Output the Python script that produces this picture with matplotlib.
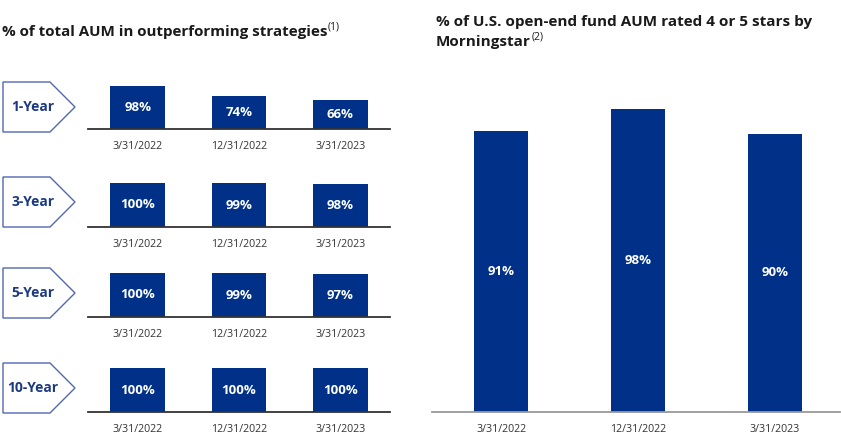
import matplotlib
matplotlib.use('Agg')
import matplotlib.pyplot as plt
from matplotlib.patches import Polygon

# data
periods = ['1-Year', '3-Year', '5-Year', '10-Year']
dates = ['3/31/2022', '12/31/2022', '3/31/2023']
outperf_1y = [98, 74, 66]
outperf_3y = [100, 99, 98]
outperf_5y = [100, 99, 97]
outperf_10y = [100, 100, 100]
stars_pct = [91, 98, 90]

NAVY = '#003087'
LABEL_NAVY = '#1c3a82'
EDGE = '#5068b4'
W, H = 841, 442

plt.rcParams['font.family'] = ['Open Sans', 'DejaVu Sans']

fig = plt.figure(figsize=(W / 100, H / 100), dpi=100)


def box(x0, y0, x1, y1):
    # pixel box (origin top-left) -> figure rect
    return [x0 / W, 1 - y1 / H, (x1 - x0) / W, (y1 - y0) / H]


def fy(y):
    return 1 - y / H


def clean(ax, spine_color):
    ax.set_yticks([])
    for s in ['top', 'left', 'right']:
        ax.spines[s].set_visible(False)
    ax.spines['bottom'].set_color(spine_color)
    ax.spines['bottom'].set_linewidth(1.3)


# left panel: one small axes per period
rows = [outperf_1y, outperf_3y, outperf_5y, outperf_10y]
baselines = [129, 227, 317, 412]
chev_centers = [107, 202, 293, 388]

for name, vals, base, cy in zip(periods, rows, baselines, chev_centers):
    ax = fig.add_axes(box(88, base - 50, 390, base))
    ax.bar(range(len(vals)), vals, width=0.54, color=NAVY)
    ax.set_xlim(-0.49, 2.49)
    ax.set_ylim(0, 100 * 50 / 44)
    for i, v in enumerate(vals):
        ax.text(i, v / 2, f'{v}%', ha='center', va='center', color='white',
                fontsize=9.5, fontweight='bold')
    ax.set_xticks(range(len(dates)), dates)
    ax.tick_params(axis='x', length=0, pad=8.5, labelsize=7.7, labelcolor='#333333')
    clean(ax, '#333333')

    # chevron label
    top, bot = cy - 25, cy + 25
    pts = [(3, top), (50, top), (75, cy), (50, bot), (3, bot)]
    fig.add_artist(Polygon([(x / W, fy(y)) for x, y in pts], closed=True,
                           transform=fig.transFigure, facecolor='white',
                           edgecolor=EDGE, lw=1))
    fig.text(33 / W, fy(cy), name, ha='center', va='center', color=LABEL_NAVY,
             fontsize=10, fontweight='bold')

# right panel
ax = fig.add_axes(box(432, 82, 840, 412))
ax.bar(range(len(stars_pct)), stars_pct, width=0.394, color=NAVY)
ax.set_xlim(-0.504, 2.474)
ax.set_ylim(0, 330 / 3.09)
for i, v in enumerate(stars_pct):
    ax.text(i, v / 2, f'{v}%', ha='center', va='center', color='white',
            fontsize=9.5, fontweight='bold')
ax.set_xticks(range(len(dates)), dates)
ax.tick_params(axis='x', length=0, pad=8.5, labelsize=7.7, labelcolor='#333333')
clean(ax, '#999999')

# titles
t1 = fig.text(2 / W, fy(32), '% of total AUM in outperforming strategies',
              fontsize=10.9, fontweight='bold', va='center', color='#1a1a1a')
fig.add_artist(plt.Annotation('(1)', xy=(1, 1), xycoords=t1, xytext=(0.3, 2.5),
                              textcoords='offset points', va='top', ha='left',
                              fontsize=7.5, color='#1a1a1a'))

fig.text(436 / W, fy(22), '% of U.S. open-end fund AUM rated 4 or 5 stars by',
         fontsize=11, fontweight='bold', va='center', color='#1a1a1a')
t2 = fig.text(436 / W, fy(42), 'Morningstar', fontsize=11, fontweight='bold',
              va='center', color='#1a1a1a')
fig.add_artist(plt.Annotation('(2)', xy=(1, 1), xycoords=t2, xytext=(0.3, 2.5),
                              textcoords='offset points', va='top', ha='left',
                              fontsize=7.5, color='#1a1a1a'))

fig.savefig('out.png', dpi=100)
